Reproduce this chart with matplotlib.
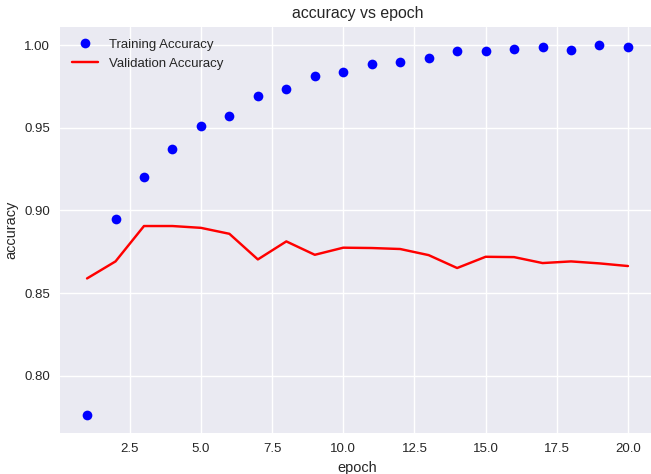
import matplotlib
matplotlib.use("Agg")
import matplotlib.pyplot as plt

plt.style.use("seaborn-v0_8")
plt.rcParams['font.family'] = ['Liberation Sans', 'DejaVu Sans']
s = 0.95
plt.rcParams.update({
    'axes.titlesize': 12 * s,
    'axes.labelsize': 11 * s,
    'xtick.labelsize': 10 * s,
    'ytick.labelsize': 10 * s,
    'legend.fontsize': 10 * s,
})

epochs = list(range(1, 21))
train_acc = [0.7764, 0.8946, 0.9200, 0.9375, 0.9510, 0.9573, 0.9694, 0.9736,
             0.9812, 0.9838, 0.9887, 0.9897, 0.9925, 0.9964, 0.9964, 0.9978,
             0.9986, 0.9972, 1.0000, 0.9992]
val_acc = [0.8589, 0.8692, 0.8906, 0.8906, 0.8895, 0.8859, 0.8704, 0.8813,
           0.8732, 0.8775, 0.8773, 0.8767, 0.8730, 0.8652, 0.8720, 0.8718,
           0.8682, 0.8692, 0.8680, 0.8664]

fig = plt.figure(figsize=(6.51, 4.74), dpi=100)
ax = fig.add_axes([60/651, 1 - 433.3/474, (655 - 60)/651, (433.3 - 26.7)/474])
ax.plot(epochs, train_acc, 'bo', label='Training Accuracy')
ax.plot(epochs, val_acc, 'r', label='Validation Accuracy')
ax.set_title('accuracy vs epoch')
ax.set_xlabel('epoch')
ax.set_ylabel('accuracy')
ax.legend(loc='upper left')
fig.savefig('out.png', dpi=100)
